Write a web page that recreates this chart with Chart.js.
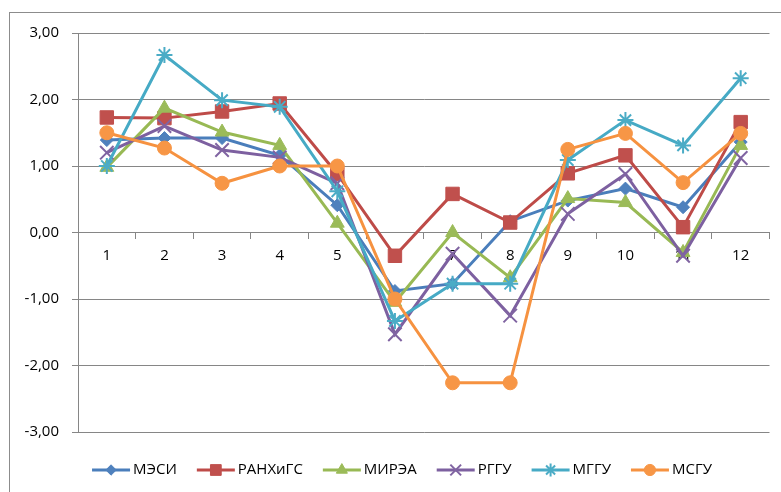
<!DOCTYPE html>
<html>
<head>
<meta charset="utf-8">
<script src="https://cdn.jsdelivr.net/npm/chart.js@4/dist/chart.umd.min.js"></script>
<style>
  html, body { margin: 0; padding: 0; background: #fff; }
  body { width: 781px; height: 492px; position: relative; overflow: hidden; }
  #frame { position: absolute; left: 9px; top: 12px; width: 800px; height: 500px; border: 1px solid #8c8c8c; }
  #chart { position: absolute; left: 0; top: 0; }
</style>
</head>
<body>
<div id="frame"></div>
<canvas id="chart" width="781" height="492"></canvas>
<script>
// Данные
const categories = ['1', '2', '3', '4', '5', '6', '7', '8', '9', '10', '11', '12'];
const seriesNames = ['МЭСИ', 'РАНХиГС', 'МИРЭА', 'РГГУ', 'МГГУ', 'МСГУ'];
const mesi    = [1.39, 1.42, 1.42, 1.16, 0.41, -0.88, -0.77, 0.17, 0.48, 0.66, 0.38, 1.36];
const ranhigs = [1.73, 1.72, 1.82, 1.94, 0.88, -0.35, 0.58, 0.15, 0.89, 1.16, 0.08, 1.66];
const mirea   = [0.98, 1.87, 1.51, 1.31, 0.14, -1.05, 0.00, -0.68, 0.51, 0.45, -0.30, 1.31];
const rggu    = [1.20, 1.60, 1.24, 1.13, 0.74, -1.53, -0.32, -1.25, 0.28, 0.88, -0.35, 1.12];
const mggu    = [1.00, 2.67, 1.99, 1.89, 0.62, -1.33, -0.77, -0.77, 1.09, 1.69, 1.31, 2.32];
const msgu    = [1.50, 1.27, 0.74, 1.00, 1.00, -1.00, -2.26, -2.26, 1.25, 1.49, 0.75, 1.49];
const yTicks  = [-3, -2, -1, 0, 1, 2, 3];

const FONT = '"Open Sans", "DejaVu Sans", sans-serif';

// Стили серий (как в Excel)
const styles = [
  { line: '#4A7EBB', fill: '#4F81BD', point: 'rectRot',  r: 6.5, bw: 1 },
  { line: '#BE4B48', fill: '#C0504D', point: 'rect',     r: 9.5, bw: 1 },
  { line: '#98B954', fill: '#9BBB59', point: 'triangle', r: 8,   bw: 1 },
  { line: '#7D60A0', fill: '#8064A2', point: 'crossRot', r: 9.5, bw: 2 },
  { line: '#46AAC5', fill: '#4BACC6', point: 'star',     r: 8,   bw: 2 },
  { line: '#F69240', fill: '#F79646', point: 'circle',   r: 7,   bw: 1 }
];
const values = [mesi, ranhigs, mirea, rggu, mggu, msgu];

const datasets = seriesNames.map((name, i) => ({
  label: name,
  data: values[i],
  borderColor: styles[i].line,
  backgroundColor: styles[i].fill,
  borderWidth: 3,
  tension: 0,
  pointStyle: styles[i].point,
  pointRadius: styles[i].r,
  pointBorderColor: styles[i].fill,
  pointBackgroundColor: styles[i].fill,
  pointBorderWidth: styles[i].bw,
  order: seriesNames.length - i   // последние серии поверх
}));

// Легенда внизу, в стиле Excel: линия + маркер + текст
const excelLegend = {
  id: 'excelLegend',
  afterDraw(chart) {
    const ctx = chart.ctx;
    const lineW = 38, gap = 3, spacing = 20, y = 470;
    ctx.save();
    ctx.font = '15px ' + FONT;
    const widths = seriesNames.map(n => lineW + gap + ctx.measureText(n).width);
    const total = widths.reduce((a, b) => a + b, 0) + spacing * (widths.length - 1);
    let x = 402 - total / 2;
    seriesNames.forEach((name, i) => {
      const s = styles[i];
      ctx.strokeStyle = s.line;
      ctx.lineWidth = 3;
      ctx.beginPath();
      ctx.moveTo(x, y);
      ctx.lineTo(x + lineW, y);
      ctx.stroke();
      ctx.fillStyle = s.fill;
      ctx.strokeStyle = s.fill;
      ctx.lineWidth = s.bw;
      Chart.helpers.drawPoint(ctx, { pointStyle: s.point, radius: s.r * 0.8, borderWidth: s.bw, rotation: 0 }, x + lineW / 2, y);
      ctx.fillStyle = '#000';
      ctx.textAlign = 'left';
      ctx.textBaseline = 'middle';
      ctx.fillText(name, x + lineW + gap, y);
      x += widths[i] + spacing;
    });
    ctx.restore();
  }
};

new Chart(document.getElementById('chart'), {
  type: 'line',
  data: { labels: categories, datasets: datasets },
  plugins: [excelLegend],
  options: {
    responsive: false,
    animation: false,
    layout: { padding: { top: 33, right: 10, bottom: 60, left: 0 } },
    plugins: {
      legend: { display: false },
      tooltip: { enabled: false }
    },
    scales: {
      x: {
        position: { y: 0 },
        offset: true,
        grid: { display: true, offset: true, drawOnChartArea: false, drawTicks: true, tickLength: 6, color: '#868686' },
        border: { display: true, color: '#868686', width: 1 },
        ticks: { color: '#000', font: { family: FONT, size: 15 }, padding: 8, maxRotation: 0, autoSkip: false }
      },
      y: {
        min: yTicks[0],
        max: yTicks[yTicks.length - 1],
        afterFit: s => { s.width = 78; },
        afterBuildTicks: s => { s.ticks = yTicks.map(v => ({ value: v })); },
        grid: { color: '#868686', tickLength: 6, drawTicks: true },
        border: { display: true, color: '#868686' },
        ticks: {
          color: '#000',
          font: { family: FONT, size: 15 },
          padding: 13,
          callback: v => Number(v).toFixed(2).replace('.', ',')
        }
      }
    }
  }
});
</script>
</body>
</html>
